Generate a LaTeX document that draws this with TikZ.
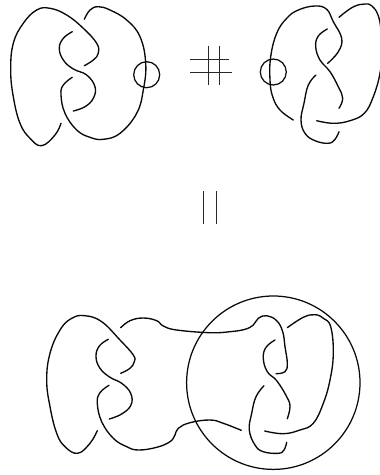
\documentclass[tikz,border=0pt]{standalone}
\usepackage{amsmath}
\usepackage{tikz}
\definecolor{knotblack}{RGB}{10,10,10}
\definecolor{signgrey}{RGB}{40,40,40}
\tikzset{
  strand/.style={knotblack, line width=1.35pt, line cap=round},
  ring/.style={knotblack, line width=1.25pt},
  signline/.style={signgrey, line width=0.95pt}
}

\begin{document}
\begin{tikzpicture}[x=1pt, y=-1pt]
\useasboundingbox (0,0) rectangle (380,475);

% Left knot on top
\draw[strand] plot[smooth, tension=0.7] coordinates {(61,123.3) (55,135) (41.7,145.7) (30,138.3) (20,123.3) (13.3,96.7) (10.7,70) (13.3,43.3) (23.3,23.3) (36.7,10) (50,8.3) (66.7,15) (83.3,28.3) (96.7,43.3) (98.3,53.3) (93.3,60) (84.3,65.7)};
\draw[strand] plot[smooth, tension=0.7] coordinates {(72.3,31.7) (63.3,38.3) (59.3,48.3) (63.3,60) (73.3,69) (86.7,75) (95,86.7) (93.3,98.3) (85,106.7) (73.3,111)};
\draw[strand] plot[smooth, tension=0.7] coordinates {(72.3,77.3) (63.3,85) (61,95) (65,113.3) (76.7,130) (90,137.3) (103.3,139.3) (120,133.3) (136.7,113.3) (143.3,90) (145.7,63.3) (140,36.7) (126.7,20) (110,10) (98.3,6.7) (90,10) (84.3,19.3)};
\draw[ring] (146.7,74.7) circle (13);

% Sum sign
\foreach \y/\xend in {59.3/229.3, 72/232} {
  \draw[signline] (190.3,\y) -- (\xend,\y);
}
\foreach \x in {208.7, 219} {
  \draw[signline] (\x,46) -- (\x,85);
}

% Right knot on top
\draw[ring] (273.3,72) circle (13);
\draw[strand] plot[smooth, tension=0.7] coordinates {(293.3,120) (280,110) (272.7,96.7) (270,80) (270.7,56.7) (276.7,33.3) (286.7,18.3) (298.3,10) (315,6) (326.7,9.3) (333.3,21.7) (341.7,38.3) (338.3,51.7) (327.7,63.3)};
\draw[strand] plot[smooth, tension=0.7] coordinates {(327.3,29) (318.3,36) (315.7,46.7) (320,60) (330,71.7) (338.3,86.7) (342.7,98.3) (339,108.3)};
\draw[strand] plot[smooth, tension=0.7] coordinates {(316,75) (308.3,85) (304,103.3) (301,120) (305,133.3) (315,140.7) (328.3,143.3) (335,139.3) (339,131.7)};
\draw[strand] plot[smooth, tension=0.7] coordinates {(316.7,120.7) (333.3,123.3) (350,120.7) (364.3,113.3) (373.3,96.7) (380,73.3) (382,50) (381,30) (378,15) (372,6) (365,4) (353,7) (339,17.3)};

% Equals sign, turned upright
\foreach \x in {203.3, 216} {
  \draw[signline] (\x,191) -- (\x,224);
}

% Connected sum at the bottom
\draw[strand] plot[smooth, tension=0.7] coordinates {(97.3,430.7) (90,443.3) (77.7,453.3) (65,446.7) (56.7,433.3) (50,406.7) (46.7,380) (50,353.3) (60,330) (71.7,318.3) (85,315.7) (101.7,321.7) (120,340) (133.3,355) (134.3,361.7) (130,368.3) (120.7,373.3)};
\draw[strand] plot[smooth, tension=0.7] coordinates {(108.3,339.3) (99.3,346) (96,356.7) (100,368.3) (110,377.3) (121.7,383.3) (130.7,393.3) (131,405) (121.7,414) (109.3,419)};
\draw[strand] plot[smooth, tension=0.7] coordinates {(109,385.3) (100,392.7) (97.3,403.3) (101.7,421.7) (113.3,438.3) (126.7,446.7) (138.3,450) (156.7,447.3) (170,441.7) (175,435) (178.3,428.3) (190,422.7) (210,420) (223.3,423.3) (241.3,430.3)};
\draw[strand] plot[smooth, tension=0.7] coordinates {(120.7,327.7) (130,320.7) (143.3,318) (156.7,320.7) (163.3,326) (176.7,330) (210,332.7) (230,331.7) (245,329.3) (253.3,325) (258.3,318.3) (266.7,315.7) (276.7,320.7) (282.7,331.7) (285,346.7) (287.3,363.3) (285,371.7) (276,373.7)};
\draw[strand] plot[smooth, tension=0.7] coordinates {(275,340) (266,347.3) (263.3,358.3) (267.3,371.7) (276.7,380.7) (286.7,396.7) (290,406.7) (287.3,418.7)};
\draw[strand] plot[smooth, tension=0.7] coordinates {(264,385.7) (256,396.7) (251.7,413.3) (249.3,430) (255,445) (263.3,451.7) (278.3,453.3) (284,450) (286.7,442.3)};
\draw[strand] plot[smooth, tension=0.7] coordinates {(264.7,431) (283.3,433.7) (300,430) (313.3,423.3) (323.3,403.3) (330,380) (333.3,353.3) (330.7,326.7) (323.3,318.3) (315,314.7) (303.3,317.3) (287.3,327.7)};
\draw[ring] (273.3,382.7) circle (86.7);

\end{tikzpicture}
\end{document}
